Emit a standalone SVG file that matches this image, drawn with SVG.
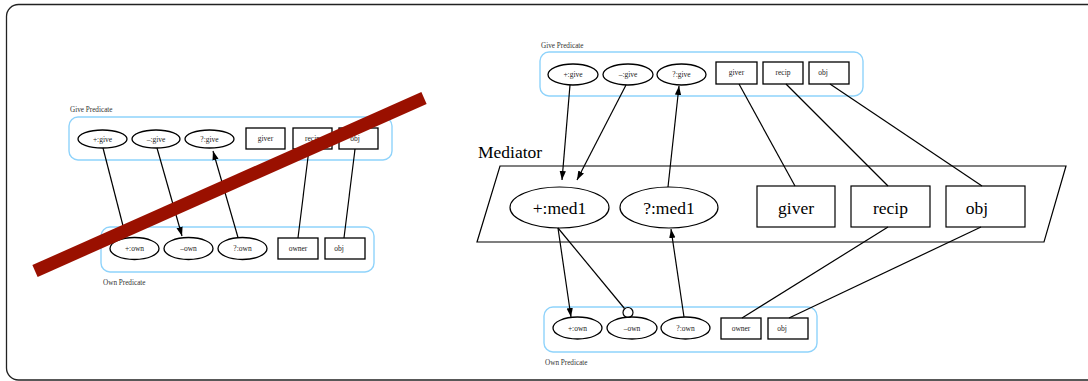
<svg xmlns="http://www.w3.org/2000/svg" width="1088" height="381" viewBox="0 0 1088 381">
  <defs>
    <style>
      .frame { fill: #ffffff; stroke: #222222; stroke-width: 1.3; }
      .cluster { fill: none; stroke: #8fd3fb; stroke-width: 1.4; }
      .node { fill: #ffffff; stroke: #000000; stroke-width: 1.3; }
      .med { fill: #ffffff; stroke: #000000; stroke-width: 1.2; }
      .edge { fill: none; stroke: #000000; stroke-width: 1.2; }
      .small { font-family: "Liberation Serif", "Times New Roman", serif; font-size: 7.5px; fill: #222222; text-anchor: middle; }
      .clabel { font-family: "Liberation Serif", "Times New Roman", serif; font-size: 7.2px; fill: #333333; }
      .big { font-family: "Liberation Serif", "Times New Roman", serif; font-size: 17.5px; fill: #000000; text-anchor: middle; }
      .title { font-family: "Liberation Serif", "Times New Roman", serif; font-size: 17.5px; fill: #000000; }
      .strike { stroke: #9a1000; stroke-width: 13; stroke-linecap: butt; }
    </style>
    <marker id="arrow" viewBox="0 0 10 10" refX="10" refY="5" markerWidth="9" markerHeight="9" markerUnits="userSpaceOnUse" orient="auto">
      <path d="M0,1.5 L10,5 L0,8.5 Z" fill="#000000"/>
    </marker>
  </defs>

  <!-- outer frame -->
  <rect class="frame" x="6.5" y="4.5" width="1094" height="375.5" rx="12" ry="12"/>

  <!-- ===== left: struck-out direct mapping ===== -->
  <g id="left-give-cluster">
    <rect class="cluster" x="69" y="117" width="323" height="43" rx="9"/>
    <text class="clabel" x="70" y="112">Give Predicate</text>
  </g>
  <g id="left-plus-give"><ellipse class="node" cx="102.5" cy="139" rx="24.5" ry="9"/><text class="small" x="102.5" y="141.5">+:give</text></g>
  <g id="left-minus-give"><ellipse class="node" cx="156" cy="139" rx="24" ry="9"/><text class="small" x="156" y="141.5">–:give</text></g>
  <g id="left-query-give"><ellipse class="node" cx="209.5" cy="139" rx="24.5" ry="9"/><text class="small" x="209.5" y="141.5">?:give</text></g>
  <g id="left-giver"><rect class="node" x="246" y="128" width="39" height="21"/><text class="small" x="265.5" y="141">giver</text></g>
  <g id="left-recip"><rect class="node" x="293" y="128" width="39" height="21"/><text class="small" x="312.5" y="141">recip</text></g>
  <g id="left-obj"><rect class="node" x="339" y="128" width="39" height="21"/><text class="small" x="355" y="141">obj</text></g>

  <g id="left-own-cluster">
    <rect class="cluster" x="101" y="227" width="273" height="45" rx="9"/>
    <text class="clabel" x="103" y="285">Own Predicate</text>
  </g>
  <g id="left-plus-own"><ellipse class="node" cx="134.5" cy="248.5" rx="24.5" ry="11"/><text class="small" x="134.5" y="251">+:own</text></g>
  <g id="left-minus-own"><ellipse class="node" cx="188.5" cy="248.5" rx="24.5" ry="11"/><text class="small" x="188.5" y="251">–own</text></g>
  <g id="left-query-own"><ellipse class="node" cx="242.5" cy="248.5" rx="24.5" ry="11"/><text class="small" x="242.5" y="251">?:own</text></g>
  <g id="left-owner"><rect class="node" x="278" y="238" width="40" height="21"/><text class="small" x="298" y="251">owner</text></g>
  <g id="left-own-obj"><rect class="node" x="325" y="238" width="40" height="21"/><text class="small" x="339" y="251">obj</text></g>

  <!-- ===== right: mapping through the mediator ===== -->
  <g id="right-give-cluster">
    <rect class="cluster" x="540" y="52" width="323" height="44" rx="9"/>
    <text class="clabel" x="541" y="48">Give Predicate</text>
  </g>
  <g id="right-plus-give"><ellipse class="node" cx="573" cy="74.5" rx="25" ry="10.5"/><text class="small" x="573" y="77">+:give</text></g>
  <g id="right-minus-give"><ellipse class="node" cx="628" cy="74.5" rx="25" ry="10.5"/><text class="small" x="628" y="77">–:give</text></g>
  <g id="right-query-give"><ellipse class="node" cx="681.5" cy="74.5" rx="24.5" ry="10.5"/><text class="small" x="681.5" y="77">?:give</text></g>
  <g id="right-giver"><rect class="node" x="716" y="62" width="41" height="22"/><text class="small" x="736.5" y="75">giver</text></g>
  <g id="right-recip"><rect class="node" x="763" y="62" width="40" height="22"/><text class="small" x="783" y="75">recip</text></g>
  <g id="right-obj"><rect class="node" x="809" y="62" width="40" height="22"/><text class="small" x="823" y="75">obj</text></g>

  <g id="mediator">
    <polygon class="med" points="500,166 1066,166 1044,242 477,242"/>
    <text class="title" x="478" y="158">Mediator</text>
  </g>
  <g id="med-plus"><ellipse class="med" cx="559.5" cy="207.5" rx="49.5" ry="20.5"/><text class="big" x="559.5" y="213.5">+:med1</text></g>
  <g id="med-query"><ellipse class="med" cx="669" cy="207.5" rx="49" ry="20.5"/><text class="big" x="669" y="213.5">?:med1</text></g>
  <g id="med-giver"><rect class="med" x="757" y="186" width="78" height="41"/><text class="big" x="796" y="213.5">giver</text></g>
  <g id="med-recip"><rect class="med" x="851" y="186" width="79" height="41"/><text class="big" x="890.5" y="213.5">recip</text></g>
  <g id="med-obj"><rect class="med" x="946" y="186" width="79" height="41"/><text class="big" x="977" y="213.5">obj</text></g>

  <g id="right-own-cluster">
    <rect class="cluster" x="544" y="307" width="273" height="45" rx="9"/>
    <text class="clabel" x="545" y="365">Own Predicate</text>
  </g>
  <g id="right-plus-own"><ellipse class="node" cx="577.5" cy="328" rx="24.5" ry="11"/><text class="small" x="577.5" y="330.5">+:own</text></g>
  <g id="right-minus-own"><ellipse class="node" cx="632" cy="328" rx="25" ry="11"/><text class="small" x="632" y="330.5">–own</text></g>
  <g id="right-query-own"><ellipse class="node" cx="685.5" cy="328" rx="24.5" ry="11"/><text class="small" x="685.5" y="330.5">?:own</text></g>
  <g id="right-owner"><rect class="node" x="721" y="318" width="40" height="21"/><text class="small" x="741" y="331">owner</text></g>
  <g id="right-own-obj"><rect class="node" x="768" y="318" width="40" height="21"/><text class="small" x="782" y="331">obj</text></g>

  <!-- connectors -->
  <g id="connectors">
    <!-- left panel -->
    <line class="edge" x1="103" y1="148" x2="126" y2="237.5"/>
    <line class="edge" x1="157" y1="148" x2="182" y2="236" marker-end="url(#arrow)"/>
    <line class="edge" x1="238" y1="237.5" x2="213" y2="151" marker-end="url(#arrow)"/>
    <line class="edge" x1="309" y1="149" x2="298" y2="238"/>
    <line class="edge" x1="355" y1="149" x2="344" y2="238"/>

    <!-- right panel: give to mediator -->
    <line class="edge" x1="570" y1="85" x2="562" y2="180" marker-end="url(#arrow)"/>
    <line class="edge" x1="626" y1="85" x2="577" y2="180" marker-end="url(#arrow)"/>
    <line class="edge" x1="668" y1="187" x2="679" y2="86" marker-end="url(#arrow)"/>
    <line class="edge" x1="739" y1="84" x2="795" y2="186"/>
    <line class="edge" x1="786" y1="84" x2="888" y2="186"/>
    <line class="edge" x1="830" y1="84" x2="982" y2="186"/>

    <!-- right panel: mediator to own -->
    <line class="edge" x1="558" y1="228" x2="571" y2="317" marker-end="url(#arrow)"/>
    <line class="edge" x1="558" y1="228" x2="624.5" y2="308.5"/>
    <circle class="edge" cx="628" cy="312.5" r="5" fill="#ffffff"/>
    <line class="edge" x1="684" y1="317" x2="671" y2="229" marker-end="url(#arrow)"/>
    <line class="edge" x1="888" y1="227" x2="742" y2="318"/>
    <line class="edge" x1="981" y1="227" x2="789" y2="318"/>
  </g>

  <!-- strike-through over the left panel -->
  <line class="strike" x1="35" y1="271" x2="424" y2="98"/>
</svg>
